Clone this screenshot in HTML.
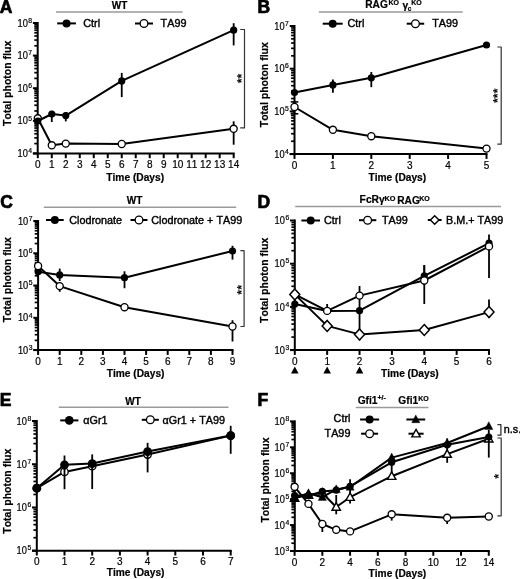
<!DOCTYPE html>
<html><head><meta charset="utf-8"><style>
html,body{margin:0;padding:0;background:#fff;}
body{width:520px;height:579px;overflow:hidden;}
svg{display:block;font-family:"Liberation Sans", sans-serif;font-variant-ligatures:none;font-kerning:none;will-change:transform;}
text{stroke:#000;stroke-width:0.2px;}
text[font-weight="bold"]{stroke-width:0.2px;}
text[font-size="10.8"]{stroke-width:0.4px;}
</style></head><body>
<svg width="520" height="579" viewBox="0 0 520 579">
<rect width="520" height="579" fill="#fff"/>
<text x="-0.20" y="12.70" font-size="17.5" font-weight="bold" text-anchor="start" style="stroke-width:0.7px">A</text>
<line x1="56.00" y1="11.90" x2="182.60" y2="11.90" stroke="#9a9a9a" stroke-width="1.5" stroke-linecap="butt"/>
<text x="119.60" y="9.10" font-size="10" font-weight="bold" text-anchor="middle" >WT</text>
<line x1="57.20" y1="23.40" x2="75.90" y2="23.40" stroke="#000" stroke-width="2.0" stroke-linecap="butt"/>
<circle cx="66.55" cy="23.40" r="4.0" fill="#000"/>
<text x="83.30" y="27.00" font-size="10.8" font-weight="normal" text-anchor="start" >Ctrl</text>
<line x1="135.00" y1="23.50" x2="153.00" y2="23.50" stroke="#000" stroke-width="2.0" stroke-linecap="butt"/>
<circle cx="144.00" cy="23.50" r="3.85" fill="#fff" stroke="#000" stroke-width="1.3"/>
<text x="160.60" y="27.00" font-size="10.8" font-weight="normal" text-anchor="start" >TA99</text>
<line x1="37.70" y1="22.00" x2="37.70" y2="154.40" stroke="#000" stroke-width="2.0" stroke-linecap="butt"/>
<line x1="32.90" y1="153.40" x2="37.70" y2="153.40" stroke="#000" stroke-width="2.0" stroke-linecap="butt"/>
<text x="27.80" y="157.00" font-size="10" font-weight="normal" text-anchor="end"  textLength="10.3" lengthAdjust="spacingAndGlyphs">10</text>
<text x="32.10" y="153.10" font-size="6.8" font-weight="normal" text-anchor="end" >4</text>
<line x1="34.30" y1="143.59" x2="37.70" y2="143.59" stroke="#000" stroke-width="1.7" stroke-linecap="butt"/>
<line x1="34.30" y1="137.85" x2="37.70" y2="137.85" stroke="#000" stroke-width="1.7" stroke-linecap="butt"/>
<line x1="34.30" y1="133.77" x2="37.70" y2="133.77" stroke="#000" stroke-width="1.7" stroke-linecap="butt"/>
<line x1="34.30" y1="130.61" x2="37.70" y2="130.61" stroke="#000" stroke-width="1.7" stroke-linecap="butt"/>
<line x1="34.30" y1="128.03" x2="37.70" y2="128.03" stroke="#000" stroke-width="1.7" stroke-linecap="butt"/>
<line x1="34.30" y1="125.85" x2="37.70" y2="125.85" stroke="#000" stroke-width="1.7" stroke-linecap="butt"/>
<line x1="34.30" y1="123.96" x2="37.70" y2="123.96" stroke="#000" stroke-width="1.7" stroke-linecap="butt"/>
<line x1="34.30" y1="122.29" x2="37.70" y2="122.29" stroke="#000" stroke-width="1.7" stroke-linecap="butt"/>
<line x1="32.90" y1="120.80" x2="37.70" y2="120.80" stroke="#000" stroke-width="2.0" stroke-linecap="butt"/>
<text x="27.80" y="124.40" font-size="10" font-weight="normal" text-anchor="end"  textLength="10.3" lengthAdjust="spacingAndGlyphs">10</text>
<text x="32.10" y="120.50" font-size="6.8" font-weight="normal" text-anchor="end" >5</text>
<line x1="34.30" y1="110.99" x2="37.70" y2="110.99" stroke="#000" stroke-width="1.7" stroke-linecap="butt"/>
<line x1="34.30" y1="105.25" x2="37.70" y2="105.25" stroke="#000" stroke-width="1.7" stroke-linecap="butt"/>
<line x1="34.30" y1="101.17" x2="37.70" y2="101.17" stroke="#000" stroke-width="1.7" stroke-linecap="butt"/>
<line x1="34.30" y1="98.01" x2="37.70" y2="98.01" stroke="#000" stroke-width="1.7" stroke-linecap="butt"/>
<line x1="34.30" y1="95.43" x2="37.70" y2="95.43" stroke="#000" stroke-width="1.7" stroke-linecap="butt"/>
<line x1="34.30" y1="93.25" x2="37.70" y2="93.25" stroke="#000" stroke-width="1.7" stroke-linecap="butt"/>
<line x1="34.30" y1="91.36" x2="37.70" y2="91.36" stroke="#000" stroke-width="1.7" stroke-linecap="butt"/>
<line x1="34.30" y1="89.69" x2="37.70" y2="89.69" stroke="#000" stroke-width="1.7" stroke-linecap="butt"/>
<line x1="32.90" y1="88.20" x2="37.70" y2="88.20" stroke="#000" stroke-width="2.0" stroke-linecap="butt"/>
<text x="27.80" y="91.80" font-size="10" font-weight="normal" text-anchor="end"  textLength="10.3" lengthAdjust="spacingAndGlyphs">10</text>
<text x="32.10" y="87.90" font-size="6.8" font-weight="normal" text-anchor="end" >6</text>
<line x1="34.30" y1="78.39" x2="37.70" y2="78.39" stroke="#000" stroke-width="1.7" stroke-linecap="butt"/>
<line x1="34.30" y1="72.65" x2="37.70" y2="72.65" stroke="#000" stroke-width="1.7" stroke-linecap="butt"/>
<line x1="34.30" y1="68.57" x2="37.70" y2="68.57" stroke="#000" stroke-width="1.7" stroke-linecap="butt"/>
<line x1="34.30" y1="65.41" x2="37.70" y2="65.41" stroke="#000" stroke-width="1.7" stroke-linecap="butt"/>
<line x1="34.30" y1="62.83" x2="37.70" y2="62.83" stroke="#000" stroke-width="1.7" stroke-linecap="butt"/>
<line x1="34.30" y1="60.65" x2="37.70" y2="60.65" stroke="#000" stroke-width="1.7" stroke-linecap="butt"/>
<line x1="34.30" y1="58.76" x2="37.70" y2="58.76" stroke="#000" stroke-width="1.7" stroke-linecap="butt"/>
<line x1="34.30" y1="57.09" x2="37.70" y2="57.09" stroke="#000" stroke-width="1.7" stroke-linecap="butt"/>
<line x1="32.90" y1="55.60" x2="37.70" y2="55.60" stroke="#000" stroke-width="2.0" stroke-linecap="butt"/>
<text x="27.80" y="59.20" font-size="10" font-weight="normal" text-anchor="end"  textLength="10.3" lengthAdjust="spacingAndGlyphs">10</text>
<text x="32.10" y="55.30" font-size="6.8" font-weight="normal" text-anchor="end" >7</text>
<line x1="34.30" y1="45.79" x2="37.70" y2="45.79" stroke="#000" stroke-width="1.7" stroke-linecap="butt"/>
<line x1="34.30" y1="40.05" x2="37.70" y2="40.05" stroke="#000" stroke-width="1.7" stroke-linecap="butt"/>
<line x1="34.30" y1="35.97" x2="37.70" y2="35.97" stroke="#000" stroke-width="1.7" stroke-linecap="butt"/>
<line x1="34.30" y1="32.81" x2="37.70" y2="32.81" stroke="#000" stroke-width="1.7" stroke-linecap="butt"/>
<line x1="34.30" y1="30.23" x2="37.70" y2="30.23" stroke="#000" stroke-width="1.7" stroke-linecap="butt"/>
<line x1="34.30" y1="28.05" x2="37.70" y2="28.05" stroke="#000" stroke-width="1.7" stroke-linecap="butt"/>
<line x1="34.30" y1="26.16" x2="37.70" y2="26.16" stroke="#000" stroke-width="1.7" stroke-linecap="butt"/>
<line x1="34.30" y1="24.49" x2="37.70" y2="24.49" stroke="#000" stroke-width="1.7" stroke-linecap="butt"/>
<line x1="32.90" y1="23.00" x2="37.70" y2="23.00" stroke="#000" stroke-width="2.0" stroke-linecap="butt"/>
<text x="27.80" y="26.60" font-size="10" font-weight="normal" text-anchor="end"  textLength="10.3" lengthAdjust="spacingAndGlyphs">10</text>
<text x="32.10" y="22.70" font-size="6.8" font-weight="normal" text-anchor="end" >8</text>
<line x1="32.90" y1="153.40" x2="234.66" y2="153.40" stroke="#000" stroke-width="2.0" stroke-linecap="butt"/>
<line x1="37.80" y1="153.40" x2="37.80" y2="158.20" stroke="#000" stroke-width="2.0" stroke-linecap="butt"/>
<line x1="51.79" y1="153.40" x2="51.79" y2="158.20" stroke="#000" stroke-width="2.0" stroke-linecap="butt"/>
<line x1="65.78" y1="153.40" x2="65.78" y2="158.20" stroke="#000" stroke-width="2.0" stroke-linecap="butt"/>
<line x1="79.77" y1="153.40" x2="79.77" y2="158.20" stroke="#000" stroke-width="2.0" stroke-linecap="butt"/>
<line x1="93.76" y1="153.40" x2="93.76" y2="158.20" stroke="#000" stroke-width="2.0" stroke-linecap="butt"/>
<line x1="107.75" y1="153.40" x2="107.75" y2="158.20" stroke="#000" stroke-width="2.0" stroke-linecap="butt"/>
<line x1="121.74" y1="153.40" x2="121.74" y2="158.20" stroke="#000" stroke-width="2.0" stroke-linecap="butt"/>
<line x1="135.73" y1="153.40" x2="135.73" y2="158.20" stroke="#000" stroke-width="2.0" stroke-linecap="butt"/>
<line x1="149.72" y1="153.40" x2="149.72" y2="158.20" stroke="#000" stroke-width="2.0" stroke-linecap="butt"/>
<line x1="163.71" y1="153.40" x2="163.71" y2="158.20" stroke="#000" stroke-width="2.0" stroke-linecap="butt"/>
<line x1="177.70" y1="153.40" x2="177.70" y2="158.20" stroke="#000" stroke-width="2.0" stroke-linecap="butt"/>
<line x1="191.69" y1="153.40" x2="191.69" y2="158.20" stroke="#000" stroke-width="2.0" stroke-linecap="butt"/>
<line x1="205.68" y1="153.40" x2="205.68" y2="158.20" stroke="#000" stroke-width="2.0" stroke-linecap="butt"/>
<line x1="219.67" y1="153.40" x2="219.67" y2="158.20" stroke="#000" stroke-width="2.0" stroke-linecap="butt"/>
<line x1="233.66" y1="153.40" x2="233.66" y2="158.20" stroke="#000" stroke-width="2.0" stroke-linecap="butt"/>
<text x="37.80" y="168.00" font-size="10" font-weight="normal" text-anchor="middle" >0</text>
<text x="51.79" y="168.00" font-size="10" font-weight="normal" text-anchor="middle" >1</text>
<text x="65.78" y="168.00" font-size="10" font-weight="normal" text-anchor="middle" >2</text>
<text x="79.77" y="168.00" font-size="10" font-weight="normal" text-anchor="middle" >3</text>
<text x="93.76" y="168.00" font-size="10" font-weight="normal" text-anchor="middle" >4</text>
<text x="107.75" y="168.00" font-size="10" font-weight="normal" text-anchor="middle" >5</text>
<text x="121.74" y="168.00" font-size="10" font-weight="normal" text-anchor="middle" >6</text>
<text x="135.73" y="168.00" font-size="10" font-weight="normal" text-anchor="middle" >7</text>
<text x="149.72" y="168.00" font-size="10" font-weight="normal" text-anchor="middle" >8</text>
<text x="163.71" y="168.00" font-size="10" font-weight="normal" text-anchor="middle" >9</text>
<text x="177.70" y="168.00" font-size="10" font-weight="normal" text-anchor="middle" >10</text>
<text x="191.69" y="168.00" font-size="10" font-weight="normal" text-anchor="middle" >11</text>
<text x="205.68" y="168.00" font-size="10" font-weight="normal" text-anchor="middle" >12</text>
<text x="219.67" y="168.00" font-size="10" font-weight="normal" text-anchor="middle" >13</text>
<text x="233.66" y="168.00" font-size="10" font-weight="normal" text-anchor="middle" >14</text>
<text x="0" y="0" font-size="10.5" font-weight="bold" text-anchor="middle" transform="translate(11.40,83.30) rotate(-90)">Total photon flux</text>
<text x="135.20" y="180.60" font-size="10.2" font-weight="bold" text-anchor="middle" >Time (Days)</text>
<polyline points="37.80,118.30 51.79,145.30 65.78,143.60 121.74,144.00 233.66,128.80" fill="none" stroke="#000" stroke-width="2.0" stroke-linejoin="round"/>
<line x1="233.66" y1="121.30" x2="233.66" y2="144.70" stroke="#000" stroke-width="1.8" stroke-linecap="butt"/>
<circle cx="37.80" cy="118.30" r="3.55" fill="#fff" stroke="#000" stroke-width="1.3"/>
<circle cx="51.79" cy="145.30" r="3.55" fill="#fff" stroke="#000" stroke-width="1.3"/>
<circle cx="65.78" cy="143.60" r="3.55" fill="#fff" stroke="#000" stroke-width="1.3"/>
<circle cx="121.74" cy="144.00" r="3.55" fill="#fff" stroke="#000" stroke-width="1.3"/>
<circle cx="233.66" cy="128.80" r="3.55" fill="#fff" stroke="#000" stroke-width="1.3"/>
<polyline points="37.80,121.00 51.79,114.00 65.78,115.60 121.74,80.90 233.66,30.20" fill="none" stroke="#000" stroke-width="2.0" stroke-linejoin="round"/>
<line x1="51.79" y1="110.90" x2="51.79" y2="122.00" stroke="#000" stroke-width="1.8" stroke-linecap="butt"/>
<line x1="65.78" y1="112.00" x2="65.78" y2="121.40" stroke="#000" stroke-width="1.8" stroke-linecap="butt"/>
<line x1="121.74" y1="72.90" x2="121.74" y2="97.10" stroke="#000" stroke-width="1.8" stroke-linecap="butt"/>
<line x1="233.66" y1="23.20" x2="233.66" y2="45.40" stroke="#000" stroke-width="1.8" stroke-linecap="butt"/>
<circle cx="37.80" cy="121.00" r="3.6" fill="#000"/>
<circle cx="51.79" cy="114.00" r="3.6" fill="#000"/>
<circle cx="65.78" cy="115.60" r="3.6" fill="#000"/>
<circle cx="121.74" cy="80.90" r="3.6" fill="#000"/>
<circle cx="233.66" cy="30.20" r="3.6" fill="#000"/>
<polyline points="240.20,29.50 244.50,29.50 244.50,127.90 240.20,127.90" fill="none" stroke="#333" stroke-width="1.2" stroke-linejoin="round"/>
<text x="0" y="0" font-size="12.5" font-weight="bold" text-anchor="middle" style="stroke-width:0" transform="translate(245.97,78.40) rotate(-90)">**</text>
<text x="257.50" y="12.70" font-size="17.5" font-weight="bold" text-anchor="start" style="stroke-width:0.7px">B</text>
<line x1="318.80" y1="12.00" x2="462.70" y2="12.00" stroke="#9a9a9a" stroke-width="1.5" stroke-linecap="butt"/>
<text x="365.20" y="8.20" font-size="10.2" font-weight="bold" text-anchor="start" >RAG</text>
<text x="388.40" y="5.10" font-size="7" font-weight="bold" text-anchor="start" >KO</text>
<text x="402.40" y="9.30" font-size="10.2" font-weight="bold" text-anchor="start" >γ</text>
<text x="407.80" y="11.20" font-size="6.5" font-weight="bold" text-anchor="start" >c</text>
<text x="411.30" y="5.10" font-size="7" font-weight="bold" text-anchor="start" >KO</text>
<line x1="322.70" y1="23.70" x2="342.70" y2="23.70" stroke="#000" stroke-width="2.0" stroke-linecap="butt"/>
<circle cx="332.70" cy="23.70" r="4.0" fill="#000"/>
<text x="347.50" y="27.00" font-size="10.8" font-weight="normal" text-anchor="start" >Ctrl</text>
<line x1="406.70" y1="23.70" x2="424.20" y2="23.70" stroke="#000" stroke-width="2.0" stroke-linecap="butt"/>
<circle cx="415.45" cy="23.70" r="3.85" fill="#fff" stroke="#000" stroke-width="1.3"/>
<text x="432.20" y="27.00" font-size="10.8" font-weight="normal" text-anchor="start" >TA99</text>
<line x1="294.50" y1="25.00" x2="294.50" y2="155.10" stroke="#000" stroke-width="2.0" stroke-linecap="butt"/>
<line x1="289.70" y1="154.10" x2="294.50" y2="154.10" stroke="#000" stroke-width="2.0" stroke-linecap="butt"/>
<text x="284.60" y="157.70" font-size="10" font-weight="normal" text-anchor="end"  textLength="10.3" lengthAdjust="spacingAndGlyphs">10</text>
<text x="288.90" y="153.80" font-size="6.8" font-weight="normal" text-anchor="end" >4</text>
<line x1="291.10" y1="141.25" x2="294.50" y2="141.25" stroke="#000" stroke-width="1.7" stroke-linecap="butt"/>
<line x1="291.10" y1="133.73" x2="294.50" y2="133.73" stroke="#000" stroke-width="1.7" stroke-linecap="butt"/>
<line x1="291.10" y1="128.39" x2="294.50" y2="128.39" stroke="#000" stroke-width="1.7" stroke-linecap="butt"/>
<line x1="291.10" y1="124.25" x2="294.50" y2="124.25" stroke="#000" stroke-width="1.7" stroke-linecap="butt"/>
<line x1="291.10" y1="120.87" x2="294.50" y2="120.87" stroke="#000" stroke-width="1.7" stroke-linecap="butt"/>
<line x1="291.10" y1="118.01" x2="294.50" y2="118.01" stroke="#000" stroke-width="1.7" stroke-linecap="butt"/>
<line x1="291.10" y1="115.54" x2="294.50" y2="115.54" stroke="#000" stroke-width="1.7" stroke-linecap="butt"/>
<line x1="291.10" y1="113.35" x2="294.50" y2="113.35" stroke="#000" stroke-width="1.7" stroke-linecap="butt"/>
<line x1="289.70" y1="111.40" x2="294.50" y2="111.40" stroke="#000" stroke-width="2.0" stroke-linecap="butt"/>
<text x="284.60" y="115.00" font-size="10" font-weight="normal" text-anchor="end"  textLength="10.3" lengthAdjust="spacingAndGlyphs">10</text>
<text x="288.90" y="111.10" font-size="6.8" font-weight="normal" text-anchor="end" >5</text>
<line x1="291.10" y1="98.55" x2="294.50" y2="98.55" stroke="#000" stroke-width="1.7" stroke-linecap="butt"/>
<line x1="291.10" y1="91.03" x2="294.50" y2="91.03" stroke="#000" stroke-width="1.7" stroke-linecap="butt"/>
<line x1="291.10" y1="85.69" x2="294.50" y2="85.69" stroke="#000" stroke-width="1.7" stroke-linecap="butt"/>
<line x1="291.10" y1="81.55" x2="294.50" y2="81.55" stroke="#000" stroke-width="1.7" stroke-linecap="butt"/>
<line x1="291.10" y1="78.17" x2="294.50" y2="78.17" stroke="#000" stroke-width="1.7" stroke-linecap="butt"/>
<line x1="291.10" y1="75.31" x2="294.50" y2="75.31" stroke="#000" stroke-width="1.7" stroke-linecap="butt"/>
<line x1="291.10" y1="72.84" x2="294.50" y2="72.84" stroke="#000" stroke-width="1.7" stroke-linecap="butt"/>
<line x1="291.10" y1="70.65" x2="294.50" y2="70.65" stroke="#000" stroke-width="1.7" stroke-linecap="butt"/>
<line x1="289.70" y1="68.70" x2="294.50" y2="68.70" stroke="#000" stroke-width="2.0" stroke-linecap="butt"/>
<text x="284.60" y="72.30" font-size="10" font-weight="normal" text-anchor="end"  textLength="10.3" lengthAdjust="spacingAndGlyphs">10</text>
<text x="288.90" y="68.40" font-size="6.8" font-weight="normal" text-anchor="end" >6</text>
<line x1="291.10" y1="55.85" x2="294.50" y2="55.85" stroke="#000" stroke-width="1.7" stroke-linecap="butt"/>
<line x1="291.10" y1="48.33" x2="294.50" y2="48.33" stroke="#000" stroke-width="1.7" stroke-linecap="butt"/>
<line x1="291.10" y1="42.99" x2="294.50" y2="42.99" stroke="#000" stroke-width="1.7" stroke-linecap="butt"/>
<line x1="291.10" y1="38.85" x2="294.50" y2="38.85" stroke="#000" stroke-width="1.7" stroke-linecap="butt"/>
<line x1="291.10" y1="35.47" x2="294.50" y2="35.47" stroke="#000" stroke-width="1.7" stroke-linecap="butt"/>
<line x1="291.10" y1="32.61" x2="294.50" y2="32.61" stroke="#000" stroke-width="1.7" stroke-linecap="butt"/>
<line x1="291.10" y1="30.14" x2="294.50" y2="30.14" stroke="#000" stroke-width="1.7" stroke-linecap="butt"/>
<line x1="291.10" y1="27.95" x2="294.50" y2="27.95" stroke="#000" stroke-width="1.7" stroke-linecap="butt"/>
<line x1="289.70" y1="26.00" x2="294.50" y2="26.00" stroke="#000" stroke-width="2.0" stroke-linecap="butt"/>
<text x="284.60" y="29.60" font-size="10" font-weight="normal" text-anchor="end"  textLength="10.3" lengthAdjust="spacingAndGlyphs">10</text>
<text x="288.90" y="25.70" font-size="6.8" font-weight="normal" text-anchor="end" >7</text>
<line x1="289.70" y1="154.10" x2="487.50" y2="154.10" stroke="#000" stroke-width="2.0" stroke-linecap="butt"/>
<line x1="294.50" y1="154.10" x2="294.50" y2="158.90" stroke="#000" stroke-width="2.0" stroke-linecap="butt"/>
<line x1="332.90" y1="154.10" x2="332.90" y2="158.90" stroke="#000" stroke-width="2.0" stroke-linecap="butt"/>
<line x1="371.30" y1="154.10" x2="371.30" y2="158.90" stroke="#000" stroke-width="2.0" stroke-linecap="butt"/>
<line x1="409.70" y1="154.10" x2="409.70" y2="158.90" stroke="#000" stroke-width="2.0" stroke-linecap="butt"/>
<line x1="448.10" y1="154.10" x2="448.10" y2="158.90" stroke="#000" stroke-width="2.0" stroke-linecap="butt"/>
<line x1="486.50" y1="154.10" x2="486.50" y2="158.90" stroke="#000" stroke-width="2.0" stroke-linecap="butt"/>
<text x="294.50" y="168.70" font-size="10" font-weight="normal" text-anchor="middle" >0</text>
<text x="332.90" y="168.70" font-size="10" font-weight="normal" text-anchor="middle" >1</text>
<text x="371.30" y="168.70" font-size="10" font-weight="normal" text-anchor="middle" >2</text>
<text x="409.70" y="168.70" font-size="10" font-weight="normal" text-anchor="middle" >3</text>
<text x="448.10" y="168.70" font-size="10" font-weight="normal" text-anchor="middle" >4</text>
<text x="486.50" y="168.70" font-size="10" font-weight="normal" text-anchor="middle" >5</text>
<text x="0" y="0" font-size="10.5" font-weight="bold" text-anchor="middle" transform="translate(268.00,84.70) rotate(-90)">Total photon flux</text>
<text x="397.30" y="180.60" font-size="10.2" font-weight="bold" text-anchor="middle" >Time (Days)</text>
<polyline points="294.50,92.50 332.90,84.90 371.30,77.80 486.50,45.00" fill="none" stroke="#000" stroke-width="2.0" stroke-linejoin="round"/>
<line x1="332.90" y1="79.60" x2="332.90" y2="92.80" stroke="#000" stroke-width="1.8" stroke-linecap="butt"/>
<line x1="371.30" y1="72.00" x2="371.30" y2="87.20" stroke="#000" stroke-width="1.8" stroke-linecap="butt"/>
<circle cx="294.50" cy="92.50" r="3.6" fill="#000"/>
<circle cx="332.90" cy="84.90" r="3.6" fill="#000"/>
<circle cx="371.30" cy="77.80" r="3.6" fill="#000"/>
<circle cx="486.50" cy="45.00" r="3.6" fill="#000"/>
<line x1="290.70" y1="101.90" x2="298.30" y2="101.90" stroke="#000" stroke-width="1.6" stroke-linecap="butt"/>
<line x1="290.70" y1="113.80" x2="298.30" y2="113.80" stroke="#000" stroke-width="1.6" stroke-linecap="butt"/>
<polyline points="294.50,107.00 332.90,129.80 371.30,136.20 486.50,148.60" fill="none" stroke="#000" stroke-width="2.0" stroke-linejoin="round"/>
<line x1="294.50" y1="101.90" x2="294.50" y2="113.80" stroke="#000" stroke-width="1.8" stroke-linecap="butt"/>
<circle cx="294.50" cy="107.00" r="3.55" fill="#fff" stroke="#000" stroke-width="1.3"/>
<circle cx="332.90" cy="129.80" r="3.55" fill="#fff" stroke="#000" stroke-width="1.3"/>
<circle cx="371.30" cy="136.20" r="3.55" fill="#fff" stroke="#000" stroke-width="1.3"/>
<circle cx="486.50" cy="148.60" r="3.55" fill="#fff" stroke="#000" stroke-width="1.3"/>
<polyline points="497.30,47.00 501.20,47.00 501.20,144.20 497.30,144.20" fill="none" stroke="#333" stroke-width="1.2" stroke-linejoin="round"/>
<text x="0" y="0" font-size="12.5" font-weight="bold" text-anchor="middle" style="stroke-width:0" transform="translate(502.07,95.80) rotate(-90)">***</text>
<text x="0.20" y="207.50" font-size="17.5" font-weight="bold" text-anchor="start" style="stroke-width:0.7px">C</text>
<line x1="43.80" y1="207.20" x2="236.20" y2="207.20" stroke="#9a9a9a" stroke-width="1.5" stroke-linecap="butt"/>
<text x="134.60" y="204.00" font-size="10" font-weight="bold" text-anchor="middle" >WT</text>
<line x1="46.00" y1="220.00" x2="63.70" y2="220.00" stroke="#000" stroke-width="2.0" stroke-linecap="butt"/>
<circle cx="54.85" cy="220.00" r="4.0" fill="#000"/>
<text x="69.20" y="223.60" font-size="10.8" font-weight="normal" text-anchor="start" >Clodronate</text>
<line x1="130.50" y1="220.00" x2="147.50" y2="220.00" stroke="#000" stroke-width="2.0" stroke-linecap="butt"/>
<circle cx="139.00" cy="220.00" r="3.85" fill="#fff" stroke="#000" stroke-width="1.3"/>
<text x="151.30" y="223.60" font-size="10.8" font-weight="normal" text-anchor="start" >Clodronate + TA99</text>
<line x1="38.10" y1="220.00" x2="38.10" y2="351.10" stroke="#000" stroke-width="2.0" stroke-linecap="butt"/>
<line x1="33.30" y1="350.10" x2="38.10" y2="350.10" stroke="#000" stroke-width="2.0" stroke-linecap="butt"/>
<text x="28.20" y="353.70" font-size="10" font-weight="normal" text-anchor="end"  textLength="10.3" lengthAdjust="spacingAndGlyphs">10</text>
<text x="32.50" y="349.80" font-size="6.8" font-weight="normal" text-anchor="end" >3</text>
<line x1="34.70" y1="340.38" x2="38.10" y2="340.38" stroke="#000" stroke-width="1.7" stroke-linecap="butt"/>
<line x1="34.70" y1="334.70" x2="38.10" y2="334.70" stroke="#000" stroke-width="1.7" stroke-linecap="butt"/>
<line x1="34.70" y1="330.67" x2="38.10" y2="330.67" stroke="#000" stroke-width="1.7" stroke-linecap="butt"/>
<line x1="34.70" y1="327.54" x2="38.10" y2="327.54" stroke="#000" stroke-width="1.7" stroke-linecap="butt"/>
<line x1="34.70" y1="324.99" x2="38.10" y2="324.99" stroke="#000" stroke-width="1.7" stroke-linecap="butt"/>
<line x1="34.70" y1="322.82" x2="38.10" y2="322.82" stroke="#000" stroke-width="1.7" stroke-linecap="butt"/>
<line x1="34.70" y1="320.95" x2="38.10" y2="320.95" stroke="#000" stroke-width="1.7" stroke-linecap="butt"/>
<line x1="34.70" y1="319.30" x2="38.10" y2="319.30" stroke="#000" stroke-width="1.7" stroke-linecap="butt"/>
<line x1="33.30" y1="317.83" x2="38.10" y2="317.83" stroke="#000" stroke-width="2.0" stroke-linecap="butt"/>
<text x="28.20" y="321.43" font-size="10" font-weight="normal" text-anchor="end"  textLength="10.3" lengthAdjust="spacingAndGlyphs">10</text>
<text x="32.50" y="317.53" font-size="6.8" font-weight="normal" text-anchor="end" >4</text>
<line x1="34.70" y1="308.11" x2="38.10" y2="308.11" stroke="#000" stroke-width="1.7" stroke-linecap="butt"/>
<line x1="34.70" y1="302.43" x2="38.10" y2="302.43" stroke="#000" stroke-width="1.7" stroke-linecap="butt"/>
<line x1="34.70" y1="298.39" x2="38.10" y2="298.39" stroke="#000" stroke-width="1.7" stroke-linecap="butt"/>
<line x1="34.70" y1="295.27" x2="38.10" y2="295.27" stroke="#000" stroke-width="1.7" stroke-linecap="butt"/>
<line x1="34.70" y1="292.71" x2="38.10" y2="292.71" stroke="#000" stroke-width="1.7" stroke-linecap="butt"/>
<line x1="34.70" y1="290.55" x2="38.10" y2="290.55" stroke="#000" stroke-width="1.7" stroke-linecap="butt"/>
<line x1="34.70" y1="288.68" x2="38.10" y2="288.68" stroke="#000" stroke-width="1.7" stroke-linecap="butt"/>
<line x1="34.70" y1="287.03" x2="38.10" y2="287.03" stroke="#000" stroke-width="1.7" stroke-linecap="butt"/>
<line x1="33.30" y1="285.55" x2="38.10" y2="285.55" stroke="#000" stroke-width="2.0" stroke-linecap="butt"/>
<text x="28.20" y="289.15" font-size="10" font-weight="normal" text-anchor="end"  textLength="10.3" lengthAdjust="spacingAndGlyphs">10</text>
<text x="32.50" y="285.25" font-size="6.8" font-weight="normal" text-anchor="end" >5</text>
<line x1="34.70" y1="275.83" x2="38.10" y2="275.83" stroke="#000" stroke-width="1.7" stroke-linecap="butt"/>
<line x1="34.70" y1="270.15" x2="38.10" y2="270.15" stroke="#000" stroke-width="1.7" stroke-linecap="butt"/>
<line x1="34.70" y1="266.12" x2="38.10" y2="266.12" stroke="#000" stroke-width="1.7" stroke-linecap="butt"/>
<line x1="34.70" y1="262.99" x2="38.10" y2="262.99" stroke="#000" stroke-width="1.7" stroke-linecap="butt"/>
<line x1="34.70" y1="260.44" x2="38.10" y2="260.44" stroke="#000" stroke-width="1.7" stroke-linecap="butt"/>
<line x1="34.70" y1="258.27" x2="38.10" y2="258.27" stroke="#000" stroke-width="1.7" stroke-linecap="butt"/>
<line x1="34.70" y1="256.40" x2="38.10" y2="256.40" stroke="#000" stroke-width="1.7" stroke-linecap="butt"/>
<line x1="34.70" y1="254.75" x2="38.10" y2="254.75" stroke="#000" stroke-width="1.7" stroke-linecap="butt"/>
<line x1="33.30" y1="253.28" x2="38.10" y2="253.28" stroke="#000" stroke-width="2.0" stroke-linecap="butt"/>
<text x="28.20" y="256.88" font-size="10" font-weight="normal" text-anchor="end"  textLength="10.3" lengthAdjust="spacingAndGlyphs">10</text>
<text x="32.50" y="252.97" font-size="6.8" font-weight="normal" text-anchor="end" >6</text>
<line x1="34.70" y1="243.56" x2="38.10" y2="243.56" stroke="#000" stroke-width="1.7" stroke-linecap="butt"/>
<line x1="34.70" y1="237.88" x2="38.10" y2="237.88" stroke="#000" stroke-width="1.7" stroke-linecap="butt"/>
<line x1="34.70" y1="233.84" x2="38.10" y2="233.84" stroke="#000" stroke-width="1.7" stroke-linecap="butt"/>
<line x1="34.70" y1="230.72" x2="38.10" y2="230.72" stroke="#000" stroke-width="1.7" stroke-linecap="butt"/>
<line x1="34.70" y1="228.16" x2="38.10" y2="228.16" stroke="#000" stroke-width="1.7" stroke-linecap="butt"/>
<line x1="34.70" y1="226.00" x2="38.10" y2="226.00" stroke="#000" stroke-width="1.7" stroke-linecap="butt"/>
<line x1="34.70" y1="224.13" x2="38.10" y2="224.13" stroke="#000" stroke-width="1.7" stroke-linecap="butt"/>
<line x1="34.70" y1="222.48" x2="38.10" y2="222.48" stroke="#000" stroke-width="1.7" stroke-linecap="butt"/>
<line x1="33.30" y1="221.00" x2="38.10" y2="221.00" stroke="#000" stroke-width="2.0" stroke-linecap="butt"/>
<text x="28.20" y="224.60" font-size="10" font-weight="normal" text-anchor="end"  textLength="10.3" lengthAdjust="spacingAndGlyphs">10</text>
<text x="32.50" y="220.70" font-size="6.8" font-weight="normal" text-anchor="end" >7</text>
<line x1="33.30" y1="350.10" x2="233.50" y2="350.10" stroke="#000" stroke-width="2.0" stroke-linecap="butt"/>
<line x1="38.10" y1="350.10" x2="38.10" y2="354.90" stroke="#000" stroke-width="2.0" stroke-linecap="butt"/>
<line x1="59.70" y1="350.10" x2="59.70" y2="354.90" stroke="#000" stroke-width="2.0" stroke-linecap="butt"/>
<line x1="81.30" y1="350.10" x2="81.30" y2="354.90" stroke="#000" stroke-width="2.0" stroke-linecap="butt"/>
<line x1="102.90" y1="350.10" x2="102.90" y2="354.90" stroke="#000" stroke-width="2.0" stroke-linecap="butt"/>
<line x1="124.50" y1="350.10" x2="124.50" y2="354.90" stroke="#000" stroke-width="2.0" stroke-linecap="butt"/>
<line x1="146.10" y1="350.10" x2="146.10" y2="354.90" stroke="#000" stroke-width="2.0" stroke-linecap="butt"/>
<line x1="167.70" y1="350.10" x2="167.70" y2="354.90" stroke="#000" stroke-width="2.0" stroke-linecap="butt"/>
<line x1="189.30" y1="350.10" x2="189.30" y2="354.90" stroke="#000" stroke-width="2.0" stroke-linecap="butt"/>
<line x1="210.90" y1="350.10" x2="210.90" y2="354.90" stroke="#000" stroke-width="2.0" stroke-linecap="butt"/>
<line x1="232.50" y1="350.10" x2="232.50" y2="354.90" stroke="#000" stroke-width="2.0" stroke-linecap="butt"/>
<text x="38.10" y="364.70" font-size="10" font-weight="normal" text-anchor="middle" >0</text>
<text x="59.70" y="364.70" font-size="10" font-weight="normal" text-anchor="middle" >1</text>
<text x="81.30" y="364.70" font-size="10" font-weight="normal" text-anchor="middle" >2</text>
<text x="102.90" y="364.70" font-size="10" font-weight="normal" text-anchor="middle" >3</text>
<text x="124.50" y="364.70" font-size="10" font-weight="normal" text-anchor="middle" >4</text>
<text x="146.10" y="364.70" font-size="10" font-weight="normal" text-anchor="middle" >5</text>
<text x="167.70" y="364.70" font-size="10" font-weight="normal" text-anchor="middle" >6</text>
<text x="189.30" y="364.70" font-size="10" font-weight="normal" text-anchor="middle" >7</text>
<text x="210.90" y="364.70" font-size="10" font-weight="normal" text-anchor="middle" >8</text>
<text x="232.50" y="364.70" font-size="10" font-weight="normal" text-anchor="middle" >9</text>
<text x="0" y="0" font-size="10.5" font-weight="bold" text-anchor="middle" transform="translate(11.40,279.70) rotate(-90)">Total photon flux</text>
<text x="135.60" y="376.80" font-size="10.2" font-weight="bold" text-anchor="middle" >Time (Days)</text>
<polyline points="38.10,271.70 59.70,274.90 124.50,277.70 232.50,251.00" fill="none" stroke="#000" stroke-width="2.0" stroke-linejoin="round"/>
<line x1="59.70" y1="268.60" x2="59.70" y2="281.00" stroke="#000" stroke-width="1.8" stroke-linecap="butt"/>
<line x1="124.50" y1="271.30" x2="124.50" y2="288.20" stroke="#000" stroke-width="1.8" stroke-linecap="butt"/>
<line x1="232.50" y1="245.80" x2="232.50" y2="259.60" stroke="#000" stroke-width="1.8" stroke-linecap="butt"/>
<circle cx="38.10" cy="271.70" r="3.6" fill="#000"/>
<circle cx="59.70" cy="274.90" r="3.6" fill="#000"/>
<circle cx="124.50" cy="277.70" r="3.6" fill="#000"/>
<circle cx="232.50" cy="251.00" r="3.6" fill="#000"/>
<polyline points="38.10,266.00 59.70,286.10 124.50,307.20 232.50,326.50" fill="none" stroke="#000" stroke-width="2.0" stroke-linejoin="round"/>
<line x1="59.70" y1="282.00" x2="59.70" y2="291.80" stroke="#000" stroke-width="1.8" stroke-linecap="butt"/>
<line x1="232.50" y1="320.20" x2="232.50" y2="341.50" stroke="#000" stroke-width="1.8" stroke-linecap="butt"/>
<circle cx="38.10" cy="266.00" r="3.55" fill="#fff" stroke="#000" stroke-width="1.3"/>
<circle cx="59.70" cy="286.10" r="3.55" fill="#fff" stroke="#000" stroke-width="1.3"/>
<circle cx="124.50" cy="307.20" r="3.55" fill="#fff" stroke="#000" stroke-width="1.3"/>
<circle cx="232.50" cy="326.50" r="3.55" fill="#fff" stroke="#000" stroke-width="1.3"/>
<polyline points="240.40,250.70 244.10,250.70 244.10,326.50 240.40,326.50" fill="none" stroke="#333" stroke-width="1.2" stroke-linejoin="round"/>
<text x="0" y="0" font-size="12.5" font-weight="bold" text-anchor="middle" style="stroke-width:0" transform="translate(245.88,289.80) rotate(-90)">**</text>
<text x="257.50" y="207.50" font-size="17.5" font-weight="bold" text-anchor="start" style="stroke-width:0.7px">D</text>
<line x1="295.20" y1="206.60" x2="501.00" y2="206.60" stroke="#9a9a9a" stroke-width="1.5" stroke-linecap="butt"/>
<text x="359.60" y="203.30" font-size="10" font-weight="bold" text-anchor="start"  textLength="25.2" lengthAdjust="spacingAndGlyphs">FcRγ</text>
<text x="384.60" y="200.60" font-size="7.3" font-weight="bold" text-anchor="start" >KO</text>
<text x="397.20" y="203.60" font-size="10.2" font-weight="bold" text-anchor="start" >RAG</text>
<text x="419.20" y="200.60" font-size="7" font-weight="bold" text-anchor="start" >KO</text>
<line x1="301.40" y1="220.50" x2="320.00" y2="220.50" stroke="#000" stroke-width="2.0" stroke-linecap="butt"/>
<circle cx="310.70" cy="220.50" r="4.0" fill="#000"/>
<text x="324.00" y="224.00" font-size="10.8" font-weight="normal" text-anchor="start" >Ctrl</text>
<line x1="359.00" y1="220.20" x2="376.30" y2="220.20" stroke="#000" stroke-width="2.0" stroke-linecap="butt"/>
<circle cx="367.65" cy="220.20" r="3.85" fill="#fff" stroke="#000" stroke-width="1.3"/>
<text x="382.00" y="224.00" font-size="10.8" font-weight="normal" text-anchor="start" >TA99</text>
<line x1="427.80" y1="220.00" x2="441.60" y2="220.00" stroke="#000" stroke-width="2.0" stroke-linecap="butt"/>
<polygon points="434.70,215.70 439.00,220.00 434.70,224.30 430.40,220.00" fill="#fff" stroke="#000" stroke-width="1.4"/>
<text x="446.00" y="224.00" font-size="10.8" font-weight="normal" text-anchor="start" >B.M.+ TA99</text>
<line x1="294.80" y1="219.50" x2="294.80" y2="351.10" stroke="#000" stroke-width="2.0" stroke-linecap="butt"/>
<line x1="290.00" y1="350.10" x2="294.80" y2="350.10" stroke="#000" stroke-width="2.0" stroke-linecap="butt"/>
<text x="284.90" y="353.70" font-size="10" font-weight="normal" text-anchor="end"  textLength="10.3" lengthAdjust="spacingAndGlyphs">10</text>
<text x="289.20" y="349.80" font-size="6.8" font-weight="normal" text-anchor="end" >3</text>
<line x1="291.40" y1="337.10" x2="294.80" y2="337.10" stroke="#000" stroke-width="1.7" stroke-linecap="butt"/>
<line x1="291.40" y1="329.49" x2="294.80" y2="329.49" stroke="#000" stroke-width="1.7" stroke-linecap="butt"/>
<line x1="291.40" y1="324.09" x2="294.80" y2="324.09" stroke="#000" stroke-width="1.7" stroke-linecap="butt"/>
<line x1="291.40" y1="319.90" x2="294.80" y2="319.90" stroke="#000" stroke-width="1.7" stroke-linecap="butt"/>
<line x1="291.40" y1="316.48" x2="294.80" y2="316.48" stroke="#000" stroke-width="1.7" stroke-linecap="butt"/>
<line x1="291.40" y1="313.59" x2="294.80" y2="313.59" stroke="#000" stroke-width="1.7" stroke-linecap="butt"/>
<line x1="291.40" y1="311.09" x2="294.80" y2="311.09" stroke="#000" stroke-width="1.7" stroke-linecap="butt"/>
<line x1="291.40" y1="308.88" x2="294.80" y2="308.88" stroke="#000" stroke-width="1.7" stroke-linecap="butt"/>
<line x1="290.00" y1="306.90" x2="294.80" y2="306.90" stroke="#000" stroke-width="2.0" stroke-linecap="butt"/>
<text x="284.90" y="310.50" font-size="10" font-weight="normal" text-anchor="end"  textLength="10.3" lengthAdjust="spacingAndGlyphs">10</text>
<text x="289.20" y="306.60" font-size="6.8" font-weight="normal" text-anchor="end" >4</text>
<line x1="291.40" y1="293.90" x2="294.80" y2="293.90" stroke="#000" stroke-width="1.7" stroke-linecap="butt"/>
<line x1="291.40" y1="286.29" x2="294.80" y2="286.29" stroke="#000" stroke-width="1.7" stroke-linecap="butt"/>
<line x1="291.40" y1="280.89" x2="294.80" y2="280.89" stroke="#000" stroke-width="1.7" stroke-linecap="butt"/>
<line x1="291.40" y1="276.70" x2="294.80" y2="276.70" stroke="#000" stroke-width="1.7" stroke-linecap="butt"/>
<line x1="291.40" y1="273.28" x2="294.80" y2="273.28" stroke="#000" stroke-width="1.7" stroke-linecap="butt"/>
<line x1="291.40" y1="270.39" x2="294.80" y2="270.39" stroke="#000" stroke-width="1.7" stroke-linecap="butt"/>
<line x1="291.40" y1="267.89" x2="294.80" y2="267.89" stroke="#000" stroke-width="1.7" stroke-linecap="butt"/>
<line x1="291.40" y1="265.68" x2="294.80" y2="265.68" stroke="#000" stroke-width="1.7" stroke-linecap="butt"/>
<line x1="290.00" y1="263.70" x2="294.80" y2="263.70" stroke="#000" stroke-width="2.0" stroke-linecap="butt"/>
<text x="284.90" y="267.30" font-size="10" font-weight="normal" text-anchor="end"  textLength="10.3" lengthAdjust="spacingAndGlyphs">10</text>
<text x="289.20" y="263.40" font-size="6.8" font-weight="normal" text-anchor="end" >5</text>
<line x1="291.40" y1="250.70" x2="294.80" y2="250.70" stroke="#000" stroke-width="1.7" stroke-linecap="butt"/>
<line x1="291.40" y1="243.09" x2="294.80" y2="243.09" stroke="#000" stroke-width="1.7" stroke-linecap="butt"/>
<line x1="291.40" y1="237.69" x2="294.80" y2="237.69" stroke="#000" stroke-width="1.7" stroke-linecap="butt"/>
<line x1="291.40" y1="233.50" x2="294.80" y2="233.50" stroke="#000" stroke-width="1.7" stroke-linecap="butt"/>
<line x1="291.40" y1="230.08" x2="294.80" y2="230.08" stroke="#000" stroke-width="1.7" stroke-linecap="butt"/>
<line x1="291.40" y1="227.19" x2="294.80" y2="227.19" stroke="#000" stroke-width="1.7" stroke-linecap="butt"/>
<line x1="291.40" y1="224.69" x2="294.80" y2="224.69" stroke="#000" stroke-width="1.7" stroke-linecap="butt"/>
<line x1="291.40" y1="222.48" x2="294.80" y2="222.48" stroke="#000" stroke-width="1.7" stroke-linecap="butt"/>
<line x1="290.00" y1="220.50" x2="294.80" y2="220.50" stroke="#000" stroke-width="2.0" stroke-linecap="butt"/>
<text x="284.90" y="224.10" font-size="10" font-weight="normal" text-anchor="end"  textLength="10.3" lengthAdjust="spacingAndGlyphs">10</text>
<text x="289.20" y="220.20" font-size="6.8" font-weight="normal" text-anchor="end" >6</text>
<line x1="290.00" y1="350.10" x2="490.02" y2="350.10" stroke="#000" stroke-width="2.0" stroke-linecap="butt"/>
<line x1="294.80" y1="350.10" x2="294.80" y2="354.90" stroke="#000" stroke-width="2.0" stroke-linecap="butt"/>
<line x1="327.17" y1="350.10" x2="327.17" y2="354.90" stroke="#000" stroke-width="2.0" stroke-linecap="butt"/>
<line x1="359.54" y1="350.10" x2="359.54" y2="354.90" stroke="#000" stroke-width="2.0" stroke-linecap="butt"/>
<line x1="391.91" y1="350.10" x2="391.91" y2="354.90" stroke="#000" stroke-width="2.0" stroke-linecap="butt"/>
<line x1="424.28" y1="350.10" x2="424.28" y2="354.90" stroke="#000" stroke-width="2.0" stroke-linecap="butt"/>
<line x1="456.65" y1="350.10" x2="456.65" y2="354.90" stroke="#000" stroke-width="2.0" stroke-linecap="butt"/>
<line x1="489.02" y1="350.10" x2="489.02" y2="354.90" stroke="#000" stroke-width="2.0" stroke-linecap="butt"/>
<text x="294.80" y="364.70" font-size="10" font-weight="normal" text-anchor="middle" >0</text>
<text x="327.17" y="364.70" font-size="10" font-weight="normal" text-anchor="middle" >1</text>
<text x="359.54" y="364.70" font-size="10" font-weight="normal" text-anchor="middle" >2</text>
<text x="391.91" y="364.70" font-size="10" font-weight="normal" text-anchor="middle" >3</text>
<text x="424.28" y="364.70" font-size="10" font-weight="normal" text-anchor="middle" >4</text>
<text x="456.65" y="364.70" font-size="10" font-weight="normal" text-anchor="middle" >5</text>
<text x="489.02" y="364.70" font-size="10" font-weight="normal" text-anchor="middle" >6</text>
<text x="0" y="0" font-size="10.5" font-weight="bold" text-anchor="middle" transform="translate(268.00,280.30) rotate(-90)">Total photon flux</text>
<text x="409.90" y="376.80" font-size="10.2" font-weight="bold" text-anchor="middle" >Time (Days)</text>
<polyline points="294.80,304.10 327.17,311.00 359.54,310.70 424.28,275.90 489.02,243.20" fill="none" stroke="#000" stroke-width="2.0" stroke-linejoin="round"/>
<line x1="359.54" y1="300.00" x2="359.54" y2="340.40" stroke="#000" stroke-width="1.8" stroke-linecap="butt"/>
<line x1="424.28" y1="265.20" x2="424.28" y2="285.00" stroke="#000" stroke-width="1.8" stroke-linecap="butt"/>
<line x1="489.02" y1="234.40" x2="489.02" y2="250.00" stroke="#000" stroke-width="1.8" stroke-linecap="butt"/>
<circle cx="294.80" cy="304.10" r="3.6" fill="#000"/>
<circle cx="327.17" cy="311.00" r="3.6" fill="#000"/>
<circle cx="359.54" cy="310.70" r="3.6" fill="#000"/>
<circle cx="424.28" cy="275.90" r="3.6" fill="#000"/>
<circle cx="489.02" cy="243.20" r="3.6" fill="#000"/>
<polyline points="294.80,294.40 327.17,310.90 359.54,295.60 424.28,280.50 489.02,246.40" fill="none" stroke="#000" stroke-width="2.0" stroke-linejoin="round"/>
<line x1="327.17" y1="304.00" x2="327.17" y2="315.00" stroke="#000" stroke-width="1.8" stroke-linecap="butt"/>
<line x1="359.54" y1="286.00" x2="359.54" y2="300.00" stroke="#000" stroke-width="1.8" stroke-linecap="butt"/>
<line x1="424.28" y1="265.00" x2="424.28" y2="304.00" stroke="#000" stroke-width="1.8" stroke-linecap="butt"/>
<line x1="489.02" y1="240.00" x2="489.02" y2="278.00" stroke="#000" stroke-width="1.8" stroke-linecap="butt"/>
<circle cx="294.80" cy="294.40" r="3.55" fill="#fff" stroke="#000" stroke-width="1.3"/>
<circle cx="327.17" cy="310.90" r="3.55" fill="#fff" stroke="#000" stroke-width="1.3"/>
<circle cx="359.54" cy="295.60" r="3.55" fill="#fff" stroke="#000" stroke-width="1.3"/>
<circle cx="424.28" cy="280.50" r="3.55" fill="#fff" stroke="#000" stroke-width="1.3"/>
<circle cx="489.02" cy="246.40" r="3.55" fill="#fff" stroke="#000" stroke-width="1.3"/>
<polyline points="294.80,294.40 327.17,325.90 359.54,334.40 424.28,330.00 489.02,312.10" fill="none" stroke="#000" stroke-width="2.0" stroke-linejoin="round"/>
<line x1="489.02" y1="299.50" x2="489.02" y2="315.00" stroke="#000" stroke-width="1.8" stroke-linecap="butt"/>
<polygon points="294.80,288.90 299.80,294.40 294.80,299.90 289.80,294.40" fill="#fff" stroke="#000" stroke-width="1.5"/>
<polygon points="327.17,320.40 332.17,325.90 327.17,331.40 322.17,325.90" fill="#fff" stroke="#000" stroke-width="1.5"/>
<polygon points="359.54,328.90 364.54,334.40 359.54,339.90 354.54,334.40" fill="#fff" stroke="#000" stroke-width="1.5"/>
<polygon points="424.28,324.50 429.28,330.00 424.28,335.50 419.28,330.00" fill="#fff" stroke="#000" stroke-width="1.5"/>
<polygon points="489.02,306.60 494.02,312.10 489.02,317.60 484.02,312.10" fill="#fff" stroke="#000" stroke-width="1.5"/>
<polygon points="294.80,366.5 298.60,373.5 291.00,373.5" fill="#000"/>
<polygon points="327.17,366.5 330.97,373.5 323.37,373.5" fill="#000"/>
<polygon points="359.54,366.5 363.34,373.5 355.74,373.5" fill="#000"/>
<text x="-0.30" y="405.50" font-size="17.5" font-weight="bold" text-anchor="start" style="stroke-width:0.7px">E</text>
<line x1="58.80" y1="407.30" x2="228.50" y2="407.30" stroke="#9a9a9a" stroke-width="1.5" stroke-linecap="butt"/>
<text x="133.10" y="404.60" font-size="10" font-weight="bold" text-anchor="middle" >WT</text>
<line x1="60.20" y1="420.40" x2="78.40" y2="420.40" stroke="#000" stroke-width="2.0" stroke-linecap="butt"/>
<circle cx="69.30" cy="420.40" r="4.3" fill="#000"/>
<text x="83.30" y="424.00" font-size="10.8" font-weight="normal" text-anchor="start" >αGr1</text>
<line x1="141.80" y1="419.80" x2="158.80" y2="419.80" stroke="#000" stroke-width="2.0" stroke-linecap="butt"/>
<circle cx="150.30" cy="419.80" r="3.85" fill="#fff" stroke="#000" stroke-width="1.3"/>
<text x="162.60" y="424.00" font-size="10.8" font-weight="normal" text-anchor="start" >αGr1 + TA99</text>
<line x1="36.80" y1="420.00" x2="36.80" y2="551.70" stroke="#000" stroke-width="2.0" stroke-linecap="butt"/>
<line x1="32.00" y1="550.70" x2="36.80" y2="550.70" stroke="#000" stroke-width="2.0" stroke-linecap="butt"/>
<text x="26.90" y="554.30" font-size="10" font-weight="normal" text-anchor="end"  textLength="10.3" lengthAdjust="spacingAndGlyphs">10</text>
<text x="31.20" y="550.40" font-size="6.8" font-weight="normal" text-anchor="end" >5</text>
<line x1="33.40" y1="537.69" x2="36.80" y2="537.69" stroke="#000" stroke-width="1.7" stroke-linecap="butt"/>
<line x1="33.40" y1="530.07" x2="36.80" y2="530.07" stroke="#000" stroke-width="1.7" stroke-linecap="butt"/>
<line x1="33.40" y1="524.67" x2="36.80" y2="524.67" stroke="#000" stroke-width="1.7" stroke-linecap="butt"/>
<line x1="33.40" y1="520.48" x2="36.80" y2="520.48" stroke="#000" stroke-width="1.7" stroke-linecap="butt"/>
<line x1="33.40" y1="517.06" x2="36.80" y2="517.06" stroke="#000" stroke-width="1.7" stroke-linecap="butt"/>
<line x1="33.40" y1="514.16" x2="36.80" y2="514.16" stroke="#000" stroke-width="1.7" stroke-linecap="butt"/>
<line x1="33.40" y1="511.66" x2="36.80" y2="511.66" stroke="#000" stroke-width="1.7" stroke-linecap="butt"/>
<line x1="33.40" y1="509.44" x2="36.80" y2="509.44" stroke="#000" stroke-width="1.7" stroke-linecap="butt"/>
<line x1="32.00" y1="507.47" x2="36.80" y2="507.47" stroke="#000" stroke-width="2.0" stroke-linecap="butt"/>
<text x="26.90" y="511.07" font-size="10" font-weight="normal" text-anchor="end"  textLength="10.3" lengthAdjust="spacingAndGlyphs">10</text>
<text x="31.20" y="507.17" font-size="6.8" font-weight="normal" text-anchor="end" >6</text>
<line x1="33.40" y1="494.45" x2="36.80" y2="494.45" stroke="#000" stroke-width="1.7" stroke-linecap="butt"/>
<line x1="33.40" y1="486.84" x2="36.80" y2="486.84" stroke="#000" stroke-width="1.7" stroke-linecap="butt"/>
<line x1="33.40" y1="481.44" x2="36.80" y2="481.44" stroke="#000" stroke-width="1.7" stroke-linecap="butt"/>
<line x1="33.40" y1="477.25" x2="36.80" y2="477.25" stroke="#000" stroke-width="1.7" stroke-linecap="butt"/>
<line x1="33.40" y1="473.82" x2="36.80" y2="473.82" stroke="#000" stroke-width="1.7" stroke-linecap="butt"/>
<line x1="33.40" y1="470.93" x2="36.80" y2="470.93" stroke="#000" stroke-width="1.7" stroke-linecap="butt"/>
<line x1="33.40" y1="468.42" x2="36.80" y2="468.42" stroke="#000" stroke-width="1.7" stroke-linecap="butt"/>
<line x1="33.40" y1="466.21" x2="36.80" y2="466.21" stroke="#000" stroke-width="1.7" stroke-linecap="butt"/>
<line x1="32.00" y1="464.23" x2="36.80" y2="464.23" stroke="#000" stroke-width="2.0" stroke-linecap="butt"/>
<text x="26.90" y="467.83" font-size="10" font-weight="normal" text-anchor="end"  textLength="10.3" lengthAdjust="spacingAndGlyphs">10</text>
<text x="31.20" y="463.93" font-size="6.8" font-weight="normal" text-anchor="end" >7</text>
<line x1="33.40" y1="451.22" x2="36.80" y2="451.22" stroke="#000" stroke-width="1.7" stroke-linecap="butt"/>
<line x1="33.40" y1="443.61" x2="36.80" y2="443.61" stroke="#000" stroke-width="1.7" stroke-linecap="butt"/>
<line x1="33.40" y1="438.20" x2="36.80" y2="438.20" stroke="#000" stroke-width="1.7" stroke-linecap="butt"/>
<line x1="33.40" y1="434.01" x2="36.80" y2="434.01" stroke="#000" stroke-width="1.7" stroke-linecap="butt"/>
<line x1="33.40" y1="430.59" x2="36.80" y2="430.59" stroke="#000" stroke-width="1.7" stroke-linecap="butt"/>
<line x1="33.40" y1="427.70" x2="36.80" y2="427.70" stroke="#000" stroke-width="1.7" stroke-linecap="butt"/>
<line x1="33.40" y1="425.19" x2="36.80" y2="425.19" stroke="#000" stroke-width="1.7" stroke-linecap="butt"/>
<line x1="33.40" y1="422.98" x2="36.80" y2="422.98" stroke="#000" stroke-width="1.7" stroke-linecap="butt"/>
<line x1="32.00" y1="421.00" x2="36.80" y2="421.00" stroke="#000" stroke-width="2.0" stroke-linecap="butt"/>
<text x="26.90" y="424.60" font-size="10" font-weight="normal" text-anchor="end"  textLength="10.3" lengthAdjust="spacingAndGlyphs">10</text>
<text x="31.20" y="420.70" font-size="6.8" font-weight="normal" text-anchor="end" >8</text>
<line x1="32.00" y1="550.70" x2="231.70" y2="550.70" stroke="#000" stroke-width="2.0" stroke-linecap="butt"/>
<line x1="36.80" y1="550.70" x2="36.80" y2="555.50" stroke="#000" stroke-width="2.0" stroke-linecap="butt"/>
<line x1="64.50" y1="550.70" x2="64.50" y2="555.50" stroke="#000" stroke-width="2.0" stroke-linecap="butt"/>
<line x1="92.20" y1="550.70" x2="92.20" y2="555.50" stroke="#000" stroke-width="2.0" stroke-linecap="butt"/>
<line x1="119.90" y1="550.70" x2="119.90" y2="555.50" stroke="#000" stroke-width="2.0" stroke-linecap="butt"/>
<line x1="147.60" y1="550.70" x2="147.60" y2="555.50" stroke="#000" stroke-width="2.0" stroke-linecap="butt"/>
<line x1="175.30" y1="550.70" x2="175.30" y2="555.50" stroke="#000" stroke-width="2.0" stroke-linecap="butt"/>
<line x1="203.00" y1="550.70" x2="203.00" y2="555.50" stroke="#000" stroke-width="2.0" stroke-linecap="butt"/>
<line x1="230.70" y1="550.70" x2="230.70" y2="555.50" stroke="#000" stroke-width="2.0" stroke-linecap="butt"/>
<text x="36.80" y="565.30" font-size="10" font-weight="normal" text-anchor="middle" >0</text>
<text x="64.50" y="565.30" font-size="10" font-weight="normal" text-anchor="middle" >1</text>
<text x="92.20" y="565.30" font-size="10" font-weight="normal" text-anchor="middle" >2</text>
<text x="119.90" y="565.30" font-size="10" font-weight="normal" text-anchor="middle" >3</text>
<text x="147.60" y="565.30" font-size="10" font-weight="normal" text-anchor="middle" >4</text>
<text x="175.30" y="565.30" font-size="10" font-weight="normal" text-anchor="middle" >5</text>
<text x="203.00" y="565.30" font-size="10" font-weight="normal" text-anchor="middle" >6</text>
<text x="230.70" y="565.30" font-size="10" font-weight="normal" text-anchor="middle" >7</text>
<text x="0" y="0" font-size="10.5" font-weight="bold" text-anchor="middle" transform="translate(10.90,491.20) rotate(-90)">Total photon flux</text>
<text x="135.60" y="576.40" font-size="10.2" font-weight="bold" text-anchor="middle" >Time (Days)</text>
<polyline points="36.80,488.20 64.50,471.90 92.20,466.20 147.60,454.60 230.70,435.60" fill="none" stroke="#000" stroke-width="2.0" stroke-linejoin="round"/>
<circle cx="36.80" cy="488.20" r="3.7" fill="#fff" stroke="#000" stroke-width="1.3"/>
<circle cx="64.50" cy="471.90" r="3.7" fill="#fff" stroke="#000" stroke-width="1.3"/>
<circle cx="92.20" cy="466.20" r="3.7" fill="#fff" stroke="#000" stroke-width="1.3"/>
<circle cx="147.60" cy="454.60" r="3.7" fill="#fff" stroke="#000" stroke-width="1.3"/>
<circle cx="230.70" cy="435.60" r="3.7" fill="#fff" stroke="#000" stroke-width="1.3"/>
<line x1="64.50" y1="465.00" x2="64.50" y2="489.20" stroke="#000" stroke-width="1.8" stroke-linecap="butt"/>
<line x1="92.20" y1="460.00" x2="92.20" y2="489.00" stroke="#000" stroke-width="1.8" stroke-linecap="butt"/>
<line x1="147.60" y1="450.00" x2="147.60" y2="472.40" stroke="#000" stroke-width="1.8" stroke-linecap="butt"/>
<polyline points="36.80,488.20 64.50,464.80 92.20,463.60 147.60,451.60 230.70,435.60" fill="none" stroke="#000" stroke-width="2.0" stroke-linejoin="round"/>
<line x1="64.50" y1="455.50" x2="64.50" y2="470.00" stroke="#000" stroke-width="1.8" stroke-linecap="butt"/>
<line x1="92.20" y1="454.40" x2="92.20" y2="468.00" stroke="#000" stroke-width="1.8" stroke-linecap="butt"/>
<line x1="147.60" y1="442.80" x2="147.60" y2="456.00" stroke="#000" stroke-width="1.8" stroke-linecap="butt"/>
<line x1="230.70" y1="425.80" x2="230.70" y2="453.80" stroke="#000" stroke-width="1.8" stroke-linecap="butt"/>
<circle cx="36.80" cy="488.20" r="4.4" fill="#000"/>
<circle cx="64.50" cy="464.80" r="4.4" fill="#000"/>
<circle cx="92.20" cy="463.60" r="4.4" fill="#000"/>
<circle cx="147.60" cy="451.60" r="4.4" fill="#000"/>
<circle cx="230.70" cy="435.60" r="4.4" fill="#000"/>
<text x="257.50" y="405.50" font-size="17.5" font-weight="bold" text-anchor="start" style="stroke-width:0.7px">F</text>
<line x1="355.80" y1="407.40" x2="428.50" y2="407.40" stroke="#9a9a9a" stroke-width="1.5" stroke-linecap="butt"/>
<text x="357.65" y="403.50" font-size="10.2" font-weight="bold" text-anchor="start" >Gfi1</text>
<text x="377.40" y="400.40" font-size="7" font-weight="bold" text-anchor="start" >+/-</text>
<text x="398.35" y="403.50" font-size="10.2" font-weight="bold" text-anchor="start" >Gfi1</text>
<text x="418.30" y="400.60" font-size="7" font-weight="bold" text-anchor="start" >KO</text>
<text x="350.40" y="421.70" font-size="10.8" font-weight="normal" text-anchor="end" >Ctrl</text>
<text x="350.40" y="436.70" font-size="10.8" font-weight="normal" text-anchor="end" >TA99</text>
<line x1="360.10" y1="419.50" x2="379.10" y2="419.50" stroke="#000" stroke-width="2.0" stroke-linecap="butt"/>
<circle cx="369.60" cy="419.50" r="4.0" fill="#000"/>
<line x1="406.40" y1="419.50" x2="425.20" y2="419.50" stroke="#000" stroke-width="2.0" stroke-linecap="butt"/>
<polygon points="415.80,414.90 419.90,422.70 411.70,422.70" fill="#000" stroke="#000" stroke-width="0.4"/>
<line x1="361.10" y1="433.70" x2="378.10" y2="433.70" stroke="#000" stroke-width="2.0" stroke-linecap="butt"/>
<circle cx="369.60" cy="433.70" r="3.85" fill="#fff" stroke="#000" stroke-width="1.3"/>
<line x1="408.50" y1="433.70" x2="423.60" y2="433.70" stroke="#000" stroke-width="2.0" stroke-linecap="butt"/>
<polygon points="416.05,429.40 420.25,436.90 411.85,436.90" fill="#fff" stroke="#000" stroke-width="1.4" stroke-linejoin="miter"/>
<line x1="294.80" y1="420.40" x2="294.80" y2="552.00" stroke="#000" stroke-width="2.0" stroke-linecap="butt"/>
<line x1="290.00" y1="551.00" x2="294.80" y2="551.00" stroke="#000" stroke-width="2.0" stroke-linecap="butt"/>
<text x="284.90" y="554.60" font-size="10" font-weight="normal" text-anchor="end"  textLength="10.3" lengthAdjust="spacingAndGlyphs">10</text>
<text x="289.20" y="550.70" font-size="6.8" font-weight="normal" text-anchor="end" >3</text>
<line x1="291.40" y1="543.20" x2="294.80" y2="543.20" stroke="#000" stroke-width="1.7" stroke-linecap="butt"/>
<line x1="291.40" y1="538.63" x2="294.80" y2="538.63" stroke="#000" stroke-width="1.7" stroke-linecap="butt"/>
<line x1="291.40" y1="535.39" x2="294.80" y2="535.39" stroke="#000" stroke-width="1.7" stroke-linecap="butt"/>
<line x1="291.40" y1="532.88" x2="294.80" y2="532.88" stroke="#000" stroke-width="1.7" stroke-linecap="butt"/>
<line x1="291.40" y1="530.83" x2="294.80" y2="530.83" stroke="#000" stroke-width="1.7" stroke-linecap="butt"/>
<line x1="291.40" y1="529.10" x2="294.80" y2="529.10" stroke="#000" stroke-width="1.7" stroke-linecap="butt"/>
<line x1="291.40" y1="527.59" x2="294.80" y2="527.59" stroke="#000" stroke-width="1.7" stroke-linecap="butt"/>
<line x1="291.40" y1="526.27" x2="294.80" y2="526.27" stroke="#000" stroke-width="1.7" stroke-linecap="butt"/>
<line x1="290.00" y1="525.08" x2="294.80" y2="525.08" stroke="#000" stroke-width="2.0" stroke-linecap="butt"/>
<text x="284.90" y="528.68" font-size="10" font-weight="normal" text-anchor="end"  textLength="10.3" lengthAdjust="spacingAndGlyphs">10</text>
<text x="289.20" y="524.78" font-size="6.8" font-weight="normal" text-anchor="end" >4</text>
<line x1="291.40" y1="517.28" x2="294.80" y2="517.28" stroke="#000" stroke-width="1.7" stroke-linecap="butt"/>
<line x1="291.40" y1="512.71" x2="294.80" y2="512.71" stroke="#000" stroke-width="1.7" stroke-linecap="butt"/>
<line x1="291.40" y1="509.47" x2="294.80" y2="509.47" stroke="#000" stroke-width="1.7" stroke-linecap="butt"/>
<line x1="291.40" y1="506.96" x2="294.80" y2="506.96" stroke="#000" stroke-width="1.7" stroke-linecap="butt"/>
<line x1="291.40" y1="504.91" x2="294.80" y2="504.91" stroke="#000" stroke-width="1.7" stroke-linecap="butt"/>
<line x1="291.40" y1="503.18" x2="294.80" y2="503.18" stroke="#000" stroke-width="1.7" stroke-linecap="butt"/>
<line x1="291.40" y1="501.67" x2="294.80" y2="501.67" stroke="#000" stroke-width="1.7" stroke-linecap="butt"/>
<line x1="291.40" y1="500.35" x2="294.80" y2="500.35" stroke="#000" stroke-width="1.7" stroke-linecap="butt"/>
<line x1="290.00" y1="499.16" x2="294.80" y2="499.16" stroke="#000" stroke-width="2.0" stroke-linecap="butt"/>
<text x="284.90" y="502.76" font-size="10" font-weight="normal" text-anchor="end"  textLength="10.3" lengthAdjust="spacingAndGlyphs">10</text>
<text x="289.20" y="498.86" font-size="6.8" font-weight="normal" text-anchor="end" >5</text>
<line x1="291.40" y1="491.36" x2="294.80" y2="491.36" stroke="#000" stroke-width="1.7" stroke-linecap="butt"/>
<line x1="291.40" y1="486.79" x2="294.80" y2="486.79" stroke="#000" stroke-width="1.7" stroke-linecap="butt"/>
<line x1="291.40" y1="483.55" x2="294.80" y2="483.55" stroke="#000" stroke-width="1.7" stroke-linecap="butt"/>
<line x1="291.40" y1="481.04" x2="294.80" y2="481.04" stroke="#000" stroke-width="1.7" stroke-linecap="butt"/>
<line x1="291.40" y1="478.99" x2="294.80" y2="478.99" stroke="#000" stroke-width="1.7" stroke-linecap="butt"/>
<line x1="291.40" y1="477.26" x2="294.80" y2="477.26" stroke="#000" stroke-width="1.7" stroke-linecap="butt"/>
<line x1="291.40" y1="475.75" x2="294.80" y2="475.75" stroke="#000" stroke-width="1.7" stroke-linecap="butt"/>
<line x1="291.40" y1="474.43" x2="294.80" y2="474.43" stroke="#000" stroke-width="1.7" stroke-linecap="butt"/>
<line x1="290.00" y1="473.24" x2="294.80" y2="473.24" stroke="#000" stroke-width="2.0" stroke-linecap="butt"/>
<text x="284.90" y="476.84" font-size="10" font-weight="normal" text-anchor="end"  textLength="10.3" lengthAdjust="spacingAndGlyphs">10</text>
<text x="289.20" y="472.94" font-size="6.8" font-weight="normal" text-anchor="end" >6</text>
<line x1="291.40" y1="465.44" x2="294.80" y2="465.44" stroke="#000" stroke-width="1.7" stroke-linecap="butt"/>
<line x1="291.40" y1="460.87" x2="294.80" y2="460.87" stroke="#000" stroke-width="1.7" stroke-linecap="butt"/>
<line x1="291.40" y1="457.63" x2="294.80" y2="457.63" stroke="#000" stroke-width="1.7" stroke-linecap="butt"/>
<line x1="291.40" y1="455.12" x2="294.80" y2="455.12" stroke="#000" stroke-width="1.7" stroke-linecap="butt"/>
<line x1="291.40" y1="453.07" x2="294.80" y2="453.07" stroke="#000" stroke-width="1.7" stroke-linecap="butt"/>
<line x1="291.40" y1="451.34" x2="294.80" y2="451.34" stroke="#000" stroke-width="1.7" stroke-linecap="butt"/>
<line x1="291.40" y1="449.83" x2="294.80" y2="449.83" stroke="#000" stroke-width="1.7" stroke-linecap="butt"/>
<line x1="291.40" y1="448.51" x2="294.80" y2="448.51" stroke="#000" stroke-width="1.7" stroke-linecap="butt"/>
<line x1="290.00" y1="447.32" x2="294.80" y2="447.32" stroke="#000" stroke-width="2.0" stroke-linecap="butt"/>
<text x="284.90" y="450.92" font-size="10" font-weight="normal" text-anchor="end"  textLength="10.3" lengthAdjust="spacingAndGlyphs">10</text>
<text x="289.20" y="447.02" font-size="6.8" font-weight="normal" text-anchor="end" >7</text>
<line x1="291.40" y1="439.52" x2="294.80" y2="439.52" stroke="#000" stroke-width="1.7" stroke-linecap="butt"/>
<line x1="291.40" y1="434.95" x2="294.80" y2="434.95" stroke="#000" stroke-width="1.7" stroke-linecap="butt"/>
<line x1="291.40" y1="431.71" x2="294.80" y2="431.71" stroke="#000" stroke-width="1.7" stroke-linecap="butt"/>
<line x1="291.40" y1="429.20" x2="294.80" y2="429.20" stroke="#000" stroke-width="1.7" stroke-linecap="butt"/>
<line x1="291.40" y1="427.15" x2="294.80" y2="427.15" stroke="#000" stroke-width="1.7" stroke-linecap="butt"/>
<line x1="291.40" y1="425.42" x2="294.80" y2="425.42" stroke="#000" stroke-width="1.7" stroke-linecap="butt"/>
<line x1="291.40" y1="423.91" x2="294.80" y2="423.91" stroke="#000" stroke-width="1.7" stroke-linecap="butt"/>
<line x1="291.40" y1="422.59" x2="294.80" y2="422.59" stroke="#000" stroke-width="1.7" stroke-linecap="butt"/>
<line x1="290.00" y1="421.40" x2="294.80" y2="421.40" stroke="#000" stroke-width="2.0" stroke-linecap="butt"/>
<text x="284.90" y="425.00" font-size="10" font-weight="normal" text-anchor="end"  textLength="10.3" lengthAdjust="spacingAndGlyphs">10</text>
<text x="289.20" y="421.10" font-size="6.8" font-weight="normal" text-anchor="end" >8</text>
<line x1="290.00" y1="551.00" x2="489.78" y2="551.00" stroke="#000" stroke-width="2.0" stroke-linecap="butt"/>
<line x1="294.60" y1="551.00" x2="294.60" y2="555.80" stroke="#000" stroke-width="2.0" stroke-linecap="butt"/>
<line x1="322.34" y1="551.00" x2="322.34" y2="555.80" stroke="#000" stroke-width="2.0" stroke-linecap="butt"/>
<line x1="350.08" y1="551.00" x2="350.08" y2="555.80" stroke="#000" stroke-width="2.0" stroke-linecap="butt"/>
<line x1="377.82" y1="551.00" x2="377.82" y2="555.80" stroke="#000" stroke-width="2.0" stroke-linecap="butt"/>
<line x1="405.56" y1="551.00" x2="405.56" y2="555.80" stroke="#000" stroke-width="2.0" stroke-linecap="butt"/>
<line x1="433.30" y1="551.00" x2="433.30" y2="555.80" stroke="#000" stroke-width="2.0" stroke-linecap="butt"/>
<line x1="461.04" y1="551.00" x2="461.04" y2="555.80" stroke="#000" stroke-width="2.0" stroke-linecap="butt"/>
<line x1="488.78" y1="551.00" x2="488.78" y2="555.80" stroke="#000" stroke-width="2.0" stroke-linecap="butt"/>
<text x="294.60" y="565.60" font-size="10" font-weight="normal" text-anchor="middle" >0</text>
<text x="322.34" y="565.60" font-size="10" font-weight="normal" text-anchor="middle" >2</text>
<text x="350.08" y="565.60" font-size="10" font-weight="normal" text-anchor="middle" >4</text>
<text x="377.82" y="565.60" font-size="10" font-weight="normal" text-anchor="middle" >6</text>
<text x="405.56" y="565.60" font-size="10" font-weight="normal" text-anchor="middle" >8</text>
<text x="433.30" y="565.60" font-size="10" font-weight="normal" text-anchor="middle" >10</text>
<text x="461.04" y="565.60" font-size="10" font-weight="normal" text-anchor="middle" >12</text>
<text x="488.78" y="565.60" font-size="10" font-weight="normal" text-anchor="middle" >14</text>
<text x="0" y="0" font-size="10.5" font-weight="bold" text-anchor="middle" transform="translate(268.50,480.00) rotate(-90)">Total photon flux</text>
<text x="397.40" y="576.60" font-size="10.2" font-weight="bold" text-anchor="middle" >Time (Days)</text>
<polyline points="294.60,498.00 308.47,495.00 322.34,493.00 336.21,507.00 350.08,497.20 391.69,476.20 447.17,454.10 488.78,438.80" fill="none" stroke="#000" stroke-width="2.0" stroke-linejoin="round"/>
<line x1="336.21" y1="495.00" x2="336.21" y2="514.30" stroke="#000" stroke-width="1.8" stroke-linecap="butt"/>
<line x1="350.08" y1="479.30" x2="350.08" y2="503.40" stroke="#000" stroke-width="1.8" stroke-linecap="butt"/>
<line x1="391.69" y1="466.00" x2="391.69" y2="476.00" stroke="#000" stroke-width="1.8" stroke-linecap="butt"/>
<line x1="447.17" y1="438.50" x2="447.17" y2="462.80" stroke="#000" stroke-width="1.8" stroke-linecap="butt"/>
<polygon points="294.60,493.70 298.80,501.20 290.40,501.20" fill="#fff" stroke="#000" stroke-width="1.4" stroke-linejoin="miter"/>
<polygon points="308.47,490.70 312.67,498.20 304.27,498.20" fill="#fff" stroke="#000" stroke-width="1.4" stroke-linejoin="miter"/>
<polygon points="322.34,488.70 326.54,496.20 318.14,496.20" fill="#fff" stroke="#000" stroke-width="1.4" stroke-linejoin="miter"/>
<polygon points="336.21,502.70 340.41,510.20 332.01,510.20" fill="#fff" stroke="#000" stroke-width="1.4" stroke-linejoin="miter"/>
<polygon points="350.08,492.90 354.28,500.40 345.88,500.40" fill="#fff" stroke="#000" stroke-width="1.4" stroke-linejoin="miter"/>
<polygon points="391.69,471.90 395.89,479.40 387.49,479.40" fill="#fff" stroke="#000" stroke-width="1.4" stroke-linejoin="miter"/>
<polygon points="447.17,449.80 451.37,457.30 442.97,457.30" fill="#fff" stroke="#000" stroke-width="1.4" stroke-linejoin="miter"/>
<polygon points="488.78,434.50 492.98,442.00 484.58,442.00" fill="#fff" stroke="#000" stroke-width="1.4" stroke-linejoin="miter"/>
<polyline points="294.60,486.80 308.47,503.90 322.34,524.00 336.21,529.80 350.08,531.40 391.69,514.30 447.17,517.80 488.78,516.50" fill="none" stroke="#000" stroke-width="2.0" stroke-linejoin="round"/>
<line x1="294.60" y1="486.80" x2="294.60" y2="486.80" stroke="#000" stroke-width="1.8" stroke-linecap="butt"/>
<line x1="308.47" y1="503.90" x2="308.47" y2="503.90" stroke="#000" stroke-width="1.8" stroke-linecap="butt"/>
<line x1="322.34" y1="524.00" x2="322.34" y2="532.00" stroke="#000" stroke-width="1.8" stroke-linecap="butt"/>
<line x1="336.21" y1="529.80" x2="336.21" y2="529.80" stroke="#000" stroke-width="1.8" stroke-linecap="butt"/>
<line x1="350.08" y1="531.40" x2="350.08" y2="531.40" stroke="#000" stroke-width="1.8" stroke-linecap="butt"/>
<line x1="391.69" y1="514.30" x2="391.69" y2="520.60" stroke="#000" stroke-width="1.8" stroke-linecap="butt"/>
<line x1="447.17" y1="517.80" x2="447.17" y2="524.00" stroke="#000" stroke-width="1.8" stroke-linecap="butt"/>
<line x1="488.78" y1="516.50" x2="488.78" y2="516.50" stroke="#000" stroke-width="1.8" stroke-linecap="butt"/>
<circle cx="294.60" cy="486.80" r="3.55" fill="#fff" stroke="#000" stroke-width="1.3"/>
<circle cx="308.47" cy="503.90" r="3.55" fill="#fff" stroke="#000" stroke-width="1.3"/>
<circle cx="322.34" cy="524.00" r="3.55" fill="#fff" stroke="#000" stroke-width="1.3"/>
<circle cx="336.21" cy="529.80" r="3.55" fill="#fff" stroke="#000" stroke-width="1.3"/>
<circle cx="350.08" cy="531.40" r="3.55" fill="#fff" stroke="#000" stroke-width="1.3"/>
<circle cx="391.69" cy="514.30" r="3.55" fill="#fff" stroke="#000" stroke-width="1.3"/>
<circle cx="447.17" cy="517.80" r="3.55" fill="#fff" stroke="#000" stroke-width="1.3"/>
<circle cx="488.78" cy="516.50" r="3.55" fill="#fff" stroke="#000" stroke-width="1.3"/>
<polyline points="294.60,498.00 308.47,493.30 322.34,497.20 336.21,489.40 350.08,487.00 391.69,457.60 447.17,443.00 488.78,426.30" fill="none" stroke="#000" stroke-width="2.0" stroke-linejoin="round"/>
<polygon points="294.60,493.40 298.70,501.20 290.50,501.20" fill="#000" stroke="#000" stroke-width="0.4"/>
<polygon points="308.47,488.70 312.57,496.50 304.37,496.50" fill="#000" stroke="#000" stroke-width="0.4"/>
<polygon points="322.34,492.60 326.44,500.40 318.24,500.40" fill="#000" stroke="#000" stroke-width="0.4"/>
<polygon points="336.21,484.80 340.31,492.60 332.11,492.60" fill="#000" stroke="#000" stroke-width="0.4"/>
<polygon points="350.08,482.40 354.18,490.20 345.98,490.20" fill="#000" stroke="#000" stroke-width="0.4"/>
<polygon points="391.69,453.00 395.79,460.80 387.59,460.80" fill="#000" stroke="#000" stroke-width="0.4"/>
<polygon points="447.17,438.40 451.27,446.20 443.07,446.20" fill="#000" stroke="#000" stroke-width="0.4"/>
<polygon points="488.78,421.70 492.88,429.50 484.68,429.50" fill="#000" stroke="#000" stroke-width="0.4"/>
<polyline points="294.60,495.60 308.47,495.60 322.34,491.40 336.21,490.20 350.08,486.30 391.69,462.30 447.17,444.80 488.78,437.00" fill="none" stroke="#000" stroke-width="2.0" stroke-linejoin="round"/>
<line x1="488.78" y1="430.00" x2="488.78" y2="457.60" stroke="#000" stroke-width="1.8" stroke-linecap="butt"/>
<circle cx="294.60" cy="495.60" r="3.6" fill="#000"/>
<circle cx="308.47" cy="495.60" r="3.6" fill="#000"/>
<circle cx="322.34" cy="491.40" r="3.6" fill="#000"/>
<circle cx="336.21" cy="490.20" r="3.6" fill="#000"/>
<circle cx="350.08" cy="486.30" r="3.6" fill="#000"/>
<circle cx="391.69" cy="462.30" r="3.6" fill="#000"/>
<circle cx="447.17" cy="444.80" r="3.6" fill="#000"/>
<circle cx="488.78" cy="437.00" r="3.6" fill="#000"/>
<polyline points="497.40,424.60 500.90,424.60 500.90,435.20 497.40,435.20" fill="none" stroke="#333" stroke-width="1.3" stroke-linejoin="round"/>
<text x="503.80" y="432.50" font-size="10.8" font-weight="normal" text-anchor="start" >n.s.</text>
<polyline points="497.40,438.00 501.20,438.00 501.20,515.80 497.40,515.80" fill="none" stroke="#333" stroke-width="1.2" stroke-linejoin="round"/>
<text x="0" y="0" font-size="12.5" font-weight="bold" text-anchor="middle" style="stroke-width:0" transform="translate(502.57,476.40) rotate(-90)">*</text>
</svg>
</body></html>
